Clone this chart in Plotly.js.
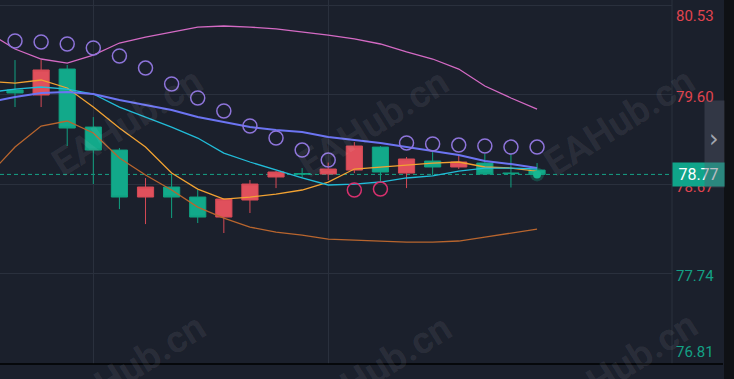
<!DOCTYPE html>
<html>
<head>
<meta charset="utf-8">
<script src="https://cdn.plot.ly/plotly-3.0.1.min.js"></script>
<style>html,body{margin:0;padding:0;background:#1b202c;}#chart{width:734px;height:379px;}</style>
</head>
<body>
<div id="chart"></div>
<script>
// candle indices
const candleIdx = [0,1,2,3,4,5,6,7,8,9,10,11,12,13,14,15,16,17,18,19,20];
const openP  = [79.647,79.595,79.865,79.262,79.023,78.535,78.639,78.535,78.327,78.504,78.743,78.779,78.774,78.815,79.054,78.784,78.909,78.847,78.888,78.785,78.815];
const closeP = [79.616,79.855,79.252,79.023,78.535,78.639,78.535,78.327,78.514,78.670,78.795,78.774,78.826,79.065,78.795,78.930,78.847,78.899,78.774,78.779,78.770];
const highP  = [79.958,79.958,79.907,79.366,79.044,78.732,78.774,78.608,78.520,78.712,78.805,78.836,78.893,79.106,79.065,78.951,79.002,78.961,78.982,78.982,78.888];
const lowP   = [79.470,79.470,79.065,78.670,78.410,78.254,78.317,78.265,78.161,78.369,78.628,78.732,78.712,78.784,78.691,78.628,78.764,78.826,78.764,78.634,78.764];

// indicator lines (start one bar before the first visible candle)
const lineIdx = [-1,0,1,2,3,4,5,6,7,8,9,10,11,12,13,14,15,16,17,18,19,20];
const bandUpper  = [80.239,80.073,79.969,79.927,80.010,80.135,80.197,80.249,80.301,80.312,80.301,80.281,80.249,80.218,80.177,80.125,80.042,79.969,79.865,79.688,79.564,79.449];
const bandMiddle = [79.522,79.574,79.616,79.626,79.605,79.543,79.491,79.439,79.366,79.314,79.262,79.231,79.210,79.158,79.127,79.096,79.054,79.013,78.971,78.909,78.878,78.836];
const bandLower  = [78.764,79.054,79.273,79.325,79.200,78.940,78.764,78.608,78.431,78.317,78.223,78.171,78.140,78.098,78.088,78.078,78.067,78.067,78.078,78.119,78.161,78.202];
const maCyan     = [79.621,79.657,79.678,79.657,79.605,79.470,79.366,79.262,79.148,78.992,78.899,78.815,78.733,78.660,78.670,78.691,78.733,78.754,78.805,78.836,78.836,78.826];
const maOrange   = [79.737,79.719,79.751,79.668,79.470,79.252,79.054,78.784,78.618,78.514,78.535,78.566,78.608,78.691,78.826,78.847,78.867,78.888,78.899,78.847,78.836,78.805];

// parabolic SAR dots
const sarAbove = [80.156,80.146,80.125,80.083,80.000,79.875,79.709,79.564,79.429,79.273,79.148,79.023,78.919,null,null,79.096,79.086,79.075,79.065,79.054,79.054];
const sarBelowIdx = [13,14];
const sarBelow = [78.608,78.618];

// axis labels
const priceTicks = [80.53,79.60,78.67,77.74,76.81];
const priceTickText = ['80.53','79.60','78.67','77.74','76.81'];
const priceTickColor = ['#e0444f','#e0444f','#e0444f','#14a085','#14a085'];
const lastPrice = 78.77;
const lastIdx = 20;

const RED = '#e0505c', GREEN = '#12a98a';

const traces = [
  {type:'candlestick', x:candleIdx, open:openP, high:highP, low:lowP, close:closeP,
   increasing:{line:{color:'#d64a56', width:1}, fillcolor:RED},
   decreasing:{line:{color:'#10a080', width:1}, fillcolor:GREEN},
   whiskerwidth:0, hoverinfo:'skip', showlegend:false},
  {type:'scatter', mode:'lines', x:lineIdx, y:bandLower, line:{color:'#b8652e', width:1.3}, hoverinfo:'skip'},
  {type:'scatter', mode:'lines', x:lineIdx, y:bandUpper, line:{color:'#d46ac4', width:1.3}, hoverinfo:'skip'},
  {type:'scatter', mode:'lines', x:lineIdx, y:maOrange, line:{color:'#f2a232', width:1.3}, hoverinfo:'skip'},
  {type:'scatter', mode:'lines', x:lineIdx, y:maCyan, line:{color:'#22bcd8', width:1.3}, hoverinfo:'skip'},
  {type:'scatter', mode:'lines', x:lineIdx, y:bandMiddle, line:{color:'#6c74f2', width:2}, hoverinfo:'skip'},
  {type:'scatter', mode:'markers', x:candleIdx, y:sarAbove,
   marker:{symbol:'circle-open', size:14, line:{width:1.5}, color:'#8e74da'}, hoverinfo:'skip'},
  {type:'scatter', mode:'markers', x:sarBelowIdx, y:sarBelow,
   marker:{symbol:'circle-open', size:14, line:{width:1.5}, color:'#d8306e'}, hoverinfo:'skip'},
  {type:'scatter', mode:'markers', x:[lastIdx], y:[lastPrice],
   marker:{size:14, color:'rgba(18,180,140,0.28)'}, hoverinfo:'skip'},
  {type:'scatter', mode:'markers', x:[lastIdx], y:[lastPrice],
   marker:{symbol:'circle', size:8, color:'#16b892'}, hoverinfo:'skip'}
];

const annotations = [];
// watermarks
const wm = [[127,122],[373,123],[619,122],[130,368],[376,369],[622,366]];
wm.forEach(p => annotations.push({xref:'paper', yref:'paper', x:p[0]/672, y:1-p[1]/364,
  text:'<b>EAHub.cn</b>', showarrow:false, textangle:-32, xanchor:'center', yanchor:'middle',
  font:{family:'Roboto, sans-serif', size:38, color:'rgba(255,255,255,0.07)'}}));
// price labels
const shifts = [-11,-2.5,-2.5,-2.5,11];
priceTicks.forEach((v,i) => annotations.push({xref:'paper', yref:'y', x:716/672, y:v, yshift:shifts[i],
  text:priceTickText[i], showarrow:false, xanchor:'right', yanchor:'middle',
  font:{family:'Roboto, sans-serif', size:15, color:priceTickColor[i]}}));
// last price box
annotations.push({xref:'paper', yref:'y', x:1, y:lastPrice, xanchor:'left', yanchor:'middle',
  text:String(lastPrice.toFixed(2)), showarrow:false, bgcolor:'#10a58a', width:51, height:23, borderpad:0,
  font:{family:'Roboto, sans-serif', size:16, color:'#ffffff'}});
// collapse panel
annotations.push({xref:'paper', yref:'paper', x:704/672, y:1-100/364, xanchor:'left', yanchor:'top',
  text:' ', showarrow:false, bgcolor:'rgba(85,90,108,0.4)', width:19, height:86, borderpad:0,
  font:{size:10, color:'rgba(0,0,0,0)'}});
annotations.push({xref:'paper', yref:'paper', x:713.5/672, y:1-139/364, xanchor:'center', yanchor:'middle',
  text:'›', showarrow:false, font:{family:'DejaVu Sans, sans-serif', size:24, color:'#a2a6b0'}});

const shapes = [
  {type:'line', xref:'paper', yref:'y', x0:0, x1:1, y0:lastPrice, y1:lastPrice, layer:'below',
   line:{color:'#17a085', width:1, dash:'4px,3px'}},
  {type:'line', xref:'paper', yref:'paper', x0:1, x1:1, y0:0, y1:1, line:{color:'#2a303d', width:1}},
  {type:'line', xref:'paper', yref:'paper', x0:0, x1:723/672, y0:0, y1:0, line:{color:'#000000', width:1.5}},
  {type:'rect', xref:'paper', yref:'paper', x0:724/672, x1:740/672, y0:-0.1, y1:1.1, line:{width:0}, fillcolor:'#0f1115'}
];

const layout = {
  width:734, height:379,
  margin:{l:0, r:62, t:0, b:15, pad:0},
  paper_bgcolor:'#1b202c', plot_bgcolor:'#1b202c',
  showlegend:false, boxgap:0.38, boxgroupgap:0,
  xaxis:{range:[-0.575, 25.17], tickvals:[3,12], showticklabels:false, showgrid:true,
         gridcolor:'#2a303d', zeroline:false, showline:false, ticks:'', rangeslider:{visible:false}, fixedrange:true},
  yaxis:{range:[76.8004, 80.582], tickvals:priceTicks, showticklabels:false, showgrid:true,
         gridcolor:'#2a303d', zeroline:false, showline:false, ticks:'', side:'right', fixedrange:true},
  annotations:annotations, shapes:shapes, hovermode:false
};

Plotly.newPlot('chart', traces, layout, {displayModeBar:false, staticPlot:true});
</script>
</body>
</html>
